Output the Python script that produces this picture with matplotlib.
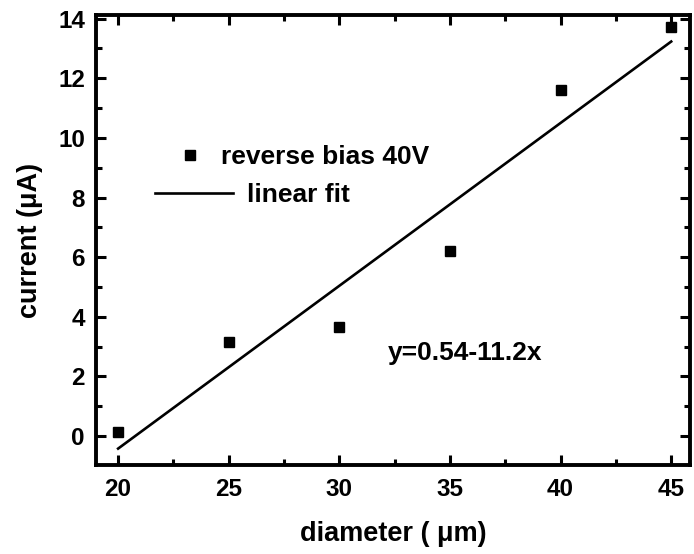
import matplotlib
matplotlib.use('Agg')
import matplotlib.pyplot as plt
from matplotlib.ticker import MultipleLocator

plt.rcParams['font.family'] = ['Liberation Sans', 'DejaVu Sans']
plt.rcParams['font.weight'] = 'bold'

# measured points
diameter = [20, 25, 30, 35, 40, 45]
current = [0.15, 3.15, 3.65, 6.2, 11.62, 13.73]

# fit line endpoints
fit_x = [20, 45]
fit_y = [-0.42, 13.23]

fig = plt.figure(figsize=(6.94, 5.54), dpi=100)
ax = fig.add_axes([96 / 694, 1 - 465 / 554, 594 / 694, 450 / 554])

pts, = ax.plot(diameter, current, 's', color='black', markersize=6.5,
               linestyle='none')
fit, = ax.plot(fit_x, fit_y, '-', color='black', linewidth=1.9)

ax.set_xlim(19, 45.85)
ax.set_ylim(-0.97, 14.12)
ax.xaxis.set_major_locator(MultipleLocator(5))
ax.xaxis.set_minor_locator(MultipleLocator(2.5))
ax.yaxis.set_major_locator(MultipleLocator(2))
ax.yaxis.set_minor_locator(MultipleLocator(1))

ax.tick_params(which='both', direction='in', top=True, right=True,
               labelsize=17.5, width=2.2)
ax.tick_params(axis='x', pad=9)
ax.tick_params(axis='y', pad=8)
ax.tick_params(which='major', length=7)
ax.tick_params(which='minor', length=4)
for s in ax.spines.values():
    s.set_linewidth(2.8)

ax.set_xlabel('diameter ( \u03bcm)', fontsize=19.5, fontweight='bold',
              labelpad=15)
ax.set_ylabel('current (\u03bcA)', fontsize=19.5, fontweight='bold',
              labelpad=11)

ax.text(0.492, 0.249, 'y=0.54-11.2x', transform=ax.transAxes, fontsize=19,
        va='center')

# two separate legend rows, the text of the second sits further right
leg1 = ax.legend([pts], ['reverse bias 40V'], loc='center left',
                 bbox_to_anchor=(0.131, 0.684), frameon=False, fontsize=19,
                 handlelength=1.2, handletextpad=0.6, borderpad=0,
                 borderaxespad=0)
ax.add_artist(leg1)
ax.legend([fit], ['linear fit'], loc='center left',
          bbox_to_anchor=(0.1, 0.6), frameon=False, fontsize=19,
          handlelength=2.95, handletextpad=0.53, borderpad=0,
          borderaxespad=0)

fig.savefig('out.png', dpi=100)
